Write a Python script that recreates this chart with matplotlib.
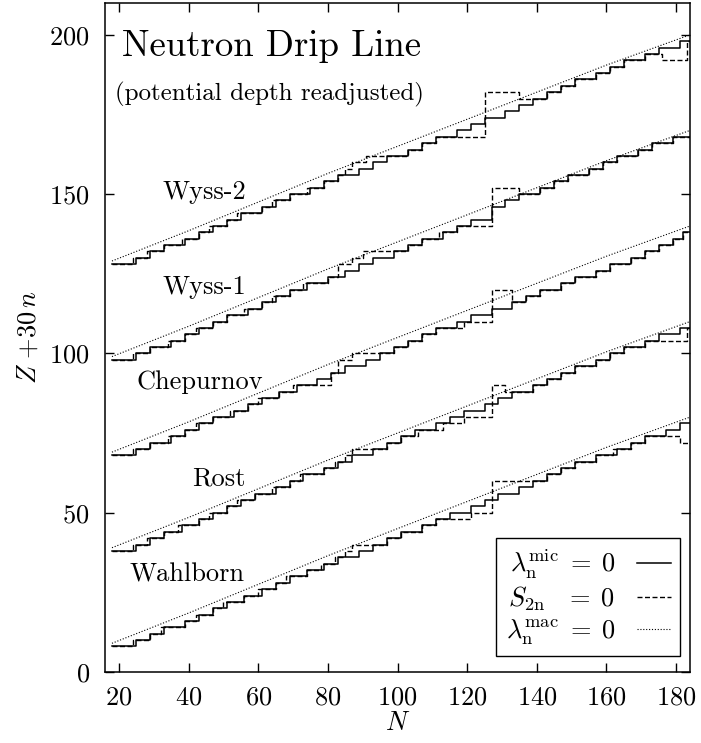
import matplotlib
matplotlib.use('Agg')
import matplotlib.pyplot as plt
from matplotlib.lines import Line2D

plt.rcParams['font.family'] = ['cmr10', 'DejaVu Serif']
plt.rcParams['mathtext.fontset'] = 'cm'
plt.rcParams['axes.formatter.use_mathtext'] = True

# drip line Z(N), one list of step edges (N) and levels (Z) per model
models = ['Wahlborn', 'Rost', 'Chepurnov', 'Wyss-1', 'Wyss-2']

z_even = [8, 10, 12, 14, 16, 18, 20, 22, 24, 26, 28, 30, 32, 34, 36, 38, 40, 42,
          44, 46, 48, 50, 52, 54, 56, 58, 60, 62, 64, 66, 68, 70, 72, 74, 76, 78]

# lambda_n^mic = 0 (solid)
wahlborn_mic_n = [18, 25, 29, 33, 39, 43, 47, 51, 56, 61, 65, 69, 74, 79, 83, 89, 93, 97, 101,
                  107, 111, 115, 121, 125, 129, 135, 139, 143, 147, 151, 157, 163, 167, 171, 177, 181, 184]
wahlborn_mic_z = z_even
rost_mic_n = [18, 25, 29, 33, 38, 43, 47, 51, 55, 59, 65, 69, 73, 79, 83, 87, 93, 97, 101,
              105, 111, 115, 119, 125, 129, 133, 139, 143, 147, 151, 157, 161, 165, 171, 175, 181, 184]
rost_mic_z = z_even
chep_mic_n = [18, 25, 29, 35, 39, 43, 47, 53, 57, 61, 66, 71, 77, 81, 85, 91, 95, 99, 103,
              107, 111, 117, 121, 127, 133, 137, 141, 147, 151, 157, 161, 167, 171, 175, 179, 182, 184]
chep_mic_z = z_even
wyss1_mic_n = [18, 25, 29, 35, 39, 43, 47, 51, 57, 61, 65, 69, 74, 80, 85, 89, 93, 99, 103,
               107, 113, 117, 121, 127, 131, 135, 141, 145, 149, 155, 159, 163, 169, 173, 179, 184]
wyss1_mic_z = [8, 10, 12, 14, 16, 18, 20, 22, 24, 26, 28, 30, 32, 34, 36, 38, 40, 42, 44, 46,
               48, 50, 52, 56, 58, 60, 62, 64, 66, 68, 70, 72, 74, 76, 78]
wyss2_mic_n = [18, 25, 29, 33, 39, 43, 47, 51, 55, 61, 65, 69, 75, 79, 83, 89, 93, 97, 103,
               107, 111, 117, 121, 125, 131, 135, 139, 143, 147, 151, 157, 161, 165, 171, 175, 181, 184]
wyss2_mic_z = z_even

# S_2n = 0 (dashed)
wahlborn_s2n_n = [18, 24, 29, 32, 39, 42, 47, 50, 56, 60, 65, 68, 74, 78, 82, 85, 87, 97, 101,
                  107, 111, 121, 127, 143, 147, 151, 157, 162, 167, 171, 181, 184]
wahlborn_s2n_z = [8, 10, 12, 14, 16, 18, 20, 22, 24, 26, 28, 30, 32, 34, 36, 38, 40, 42, 44,
                  46, 48, 50, 60, 62, 64, 66, 68, 70, 72, 74, 72]
rost_s2n_n = [18, 24, 28, 33, 37, 43, 46, 51, 54, 59, 64, 69, 72, 79, 82, 85, 87, 97, 101,
              106, 113, 119, 127, 131, 139, 143, 147, 151, 157, 161, 165, 171, 183, 184]
rost_s2n_z = [8, 10, 12, 14, 16, 18, 20, 22, 24, 26, 28, 30, 32, 34, 36, 38, 40, 42, 44,
              46, 48, 50, 60, 58, 60, 62, 64, 66, 68, 70, 72, 74, 78]
chep_s2n_n = [18, 24, 29, 34, 39, 42, 47, 52, 57, 60, 66, 70, 81, 83, 87, 99, 103, 107, 111,
              119, 127, 133, 137, 141, 147, 151, 157, 161, 167, 171, 175, 179, 182, 184]
chep_s2n_z = [8, 10, 12, 14, 16, 18, 20, 22, 24, 26, 28, 30, 34, 38, 40, 42, 44, 46, 48,
              50, 60, 56, 58, 60, 62, 64, 66, 68, 70, 72, 74, 76, 78]
wyss1_s2n_n = [18, 24, 29, 34, 39, 42, 47, 51, 56, 61, 64, 69, 73, 80, 83, 87, 90, 103, 107,
               112, 117, 127, 135, 141, 145, 149, 155, 159, 163, 169, 173, 179, 184]
wyss1_s2n_z = [8, 10, 12, 14, 16, 18, 20, 22, 24, 26, 28, 30, 32, 34, 38, 40, 42, 44, 46,
               48, 50, 62, 60, 62, 64, 66, 68, 70, 72, 74, 76, 78]
wyss2_s2n_n = [18, 24, 28, 33, 38, 43, 46, 51, 54, 61, 64, 69, 74, 79, 83, 85, 87, 91, 103,
               107, 111, 125, 135, 143, 147, 151, 157, 161, 165, 171, 176, 183, 184]
wyss2_s2n_z = [8, 10, 12, 14, 16, 18, 20, 22, 24, 26, 28, 30, 32, 34, 36, 38, 40, 42, 44,
               46, 48, 62, 60, 62, 64, 66, 68, 70, 72, 74, 72, 78]

# lambda_n^mac = 0 (dotted, smooth)
mac_n = [18, 40, 60, 80, 100, 120, 140, 160, 184]
mac_z = [9.0, 18.5, 27.5, 36.5, 45.0, 53.5, 62.0, 70.5, 80.0]

mic = [(wahlborn_mic_n, wahlborn_mic_z), (rost_mic_n, rost_mic_z), (chep_mic_n, chep_mic_z),
       (wyss1_mic_n, wyss1_mic_z), (wyss2_mic_n, wyss2_mic_z)]
s2n = [(wahlborn_s2n_n, wahlborn_s2n_z), (rost_s2n_n, rost_s2n_z), (chep_s2n_n, chep_s2n_z),
       (wyss1_s2n_n, wyss1_s2n_z), (wyss2_s2n_n, wyss2_s2n_z)]

# label positions (N, Z+30n) for the model names
label_pos = [(23.1, 28.4), (41.0, 58.6), (25.0, 88.7), (32.6, 118.7), (32.6, 148.6)]

fig = plt.figure(figsize=(7.01, 7.43), dpi=100)
ax = fig.add_axes([0.1498, 0.0956, 0.8345, 0.9004])

dash = (0, (3.6, 1.8))
dots = (0, (1.0, 1.6))

for k in range(5):
    off = 30 * k
    n, z = s2n[k]
    ax.step(n, [v + off for v in z] + [z[-1] + off], where='post', color='black',
            lw=1.0, linestyle=dash)
    n, z = mic[k]
    ax.step(n, [v + off for v in z] + [z[-1] + off], where='post', color='black', lw=1.1)
    ax.plot(mac_n, [v + off for v in mac_z], color='black', lw=0.8, linestyle=dots)
    ax.text(label_pos[k][0], label_pos[k][1], models[k], fontsize=19, va='baseline', ha='left')

ax.text(21.0, 193.5, 'Neutron Drip Line', fontsize=26.5, va='baseline', ha='left')
ax.text(18.8, 179.3, '(potential depth readjusted)', fontsize=18, va='baseline', ha='left')

ax.set_xlim(16, 184)
ax.set_ylim(0, 210)
ax.set_xticks([20, 40, 60, 80, 100, 120, 140, 160, 180])
ax.set_yticks([0, 50, 100, 150, 200])
ax.tick_params(direction='in', top=True, right=True, length=6.5, width=1.0, labelsize=19)
ax.tick_params(axis='x', pad=10)
ax.tick_params(axis='y', pad=11)
for s in ax.spines.values():
    s.set_linewidth(1.1)

ax.set_xlabel(r'$N$', fontsize=19, labelpad=1)
ax.set_ylabel(r'$Z\ {+}30\,n$', fontsize=19, labelpad=6)

handles = [Line2D([], [], color='black', lw=1.1),
           Line2D([], [], color='black', lw=1.0, linestyle=dash),
           Line2D([], [], color='black', lw=0.8, linestyle=dots)]
labels = [r'$\lambda_{\rm n}^{\rm mic}\;=\;0$', r'$S_{\rm 2n}\;\;\;=\;0$',
          r'$\lambda_{\rm n}^{\rm mac}\;=\;0$']
leg = ax.legend(handles, labels, loc='lower right', bbox_to_anchor=(0.983, 0.024),
                borderaxespad=0, fontsize=19, markerfirst=False, handlelength=1.3,
                handletextpad=0.8, borderpad=0.35, labelspacing=0.15, fancybox=False,
                framealpha=1, edgecolor='black')
leg.get_frame().set_linewidth(1.0)

fig.savefig('out.png', dpi=100)
